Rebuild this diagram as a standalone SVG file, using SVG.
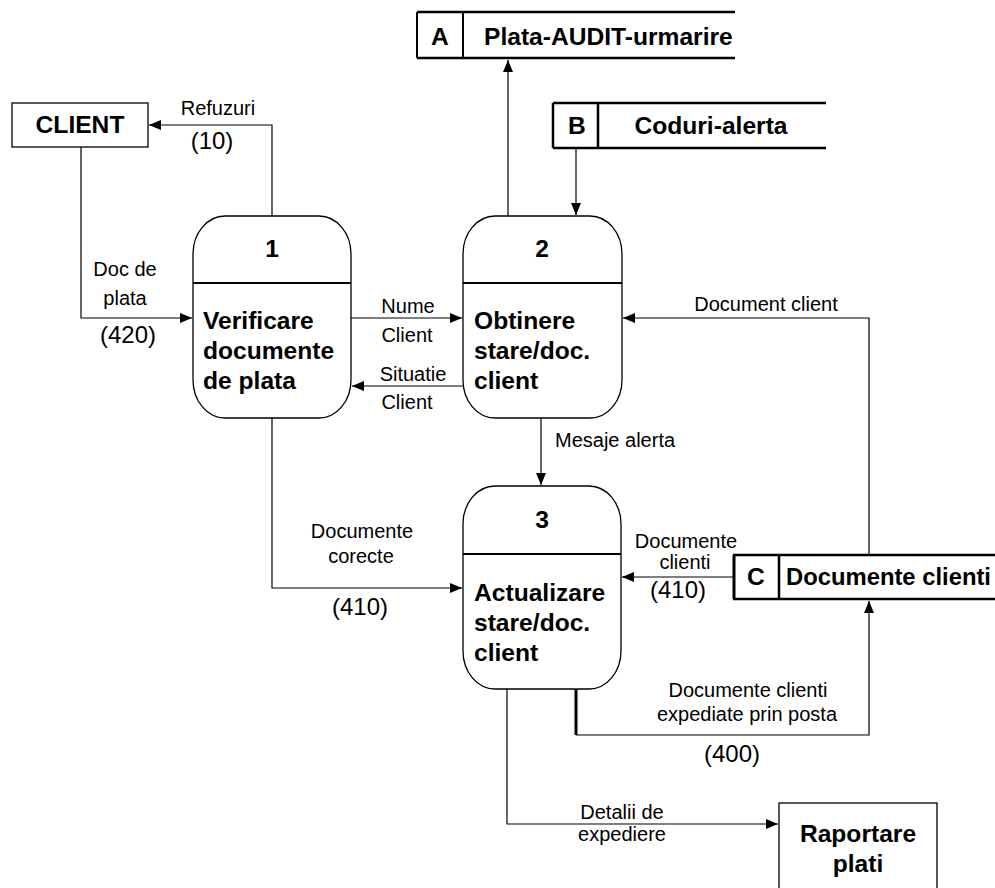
<svg xmlns="http://www.w3.org/2000/svg" width="995" height="888" viewBox="0 0 995 888">
<style>
  .bg{fill:#fff}
  .proc{fill:#fff;stroke:#000;stroke-width:1.3}
  .div{stroke:#000;stroke-width:2}
  .ext{fill:#fff;stroke:#000;stroke-width:1.3}
  .store{fill:none;stroke:#000;stroke-width:2.5}
  .conn{fill:none;stroke:#000;stroke-width:1.2}
  .b{font-family:"Liberation Sans",Arial,Helvetica,sans-serif;font-weight:bold;font-size:24.6px;fill:#000}
  .l{font-family:"Liberation Sans",Arial,Helvetica,sans-serif;font-size:20px;fill:#000}
  .n{font-family:"Liberation Sans",Arial,Helvetica,sans-serif;font-size:24px;fill:#000}
  .c{text-anchor:middle}
</style>
<defs>
  <marker id="ah" viewBox="0 0 12 10" refX="12" refY="5" markerWidth="12" markerHeight="10" markerUnits="userSpaceOnUse" orient="auto">
    <path d="M0,0 L12,5 L0,10 Z" fill="#000"/>
  </marker>
</defs>
<rect class="bg" x="0" y="0" width="995" height="888"/>

<g id="connectors">
  <path class="conn" d="M272,216 V125 H149" marker-end="url(#ah)"/>
  <path class="conn" d="M81,147 V318 H192" marker-end="url(#ah)"/>
  <path class="conn" d="M508,216 V60" marker-end="url(#ah)"/>
  <path class="conn" d="M576,148 V215" marker-end="url(#ah)"/>
  <path class="conn" d="M351,318 H462" marker-end="url(#ah)"/>
  <path class="conn" d="M463,386 H352" marker-end="url(#ah)"/>
  <path class="conn" d="M869,554 V318 H623" marker-end="url(#ah)"/>
  <path class="conn" d="M541,418 V485" marker-end="url(#ah)"/>
  <path class="conn" d="M272,418 V588 H462" marker-end="url(#ah)"/>
  <path class="conn" d="M733,577 H622" marker-end="url(#ah)"/>
  <path class="conn" d="M576,735 H869 V601" marker-end="url(#ah)"/>
  <line x1="576" y1="689" x2="576" y2="735" stroke="#000" stroke-width="3"/>
  <path class="conn" d="M507,689 V824 H778" marker-end="url(#ah)"/>
</g>

<g id="client">
  <rect class="ext" x="12" y="103" width="136" height="44"/>
  <text class="b c" x="80" y="133">CLIENT</text>
</g>

<g id="storeA">
  <line class="store" x1="417" y1="12" x2="735" y2="12"/>
  <line class="store" x1="417" y1="58" x2="735" y2="58"/>
  <line x1="417" y1="12" x2="417" y2="58" stroke="#000" stroke-width="2"/>
  <line x1="463" y1="12" x2="463" y2="58" stroke="#000" stroke-width="2"/>
  <text class="b c" x="440" y="45">A</text>
  <text class="b" x="484" y="45">Plata-AUDIT-urmarire</text>
</g>

<g id="storeB">
  <line class="store" x1="553" y1="103" x2="826" y2="103"/>
  <line class="store" x1="553" y1="148" x2="826" y2="148"/>
  <line x1="553" y1="103" x2="553" y2="148" stroke="#000" stroke-width="2.5"/>
  <line x1="598" y1="103" x2="598" y2="148" stroke="#000" stroke-width="2.5"/>
  <text class="b c" x="577" y="134">B</text>
  <text class="b c" x="711" y="134">Coduri-alerta</text>
</g>

<g id="storeC">
  <line class="store" x1="733" y1="555" x2="995" y2="555"/>
  <line class="store" x1="733" y1="599" x2="995" y2="599"/>
  <line x1="734" y1="555" x2="734" y2="599" stroke="#000" stroke-width="3"/>
  <line x1="779" y1="555" x2="779" y2="599" stroke="#000" stroke-width="2.5"/>
  <text class="b c" x="756" y="585">C</text>
  <text class="b" x="786" y="585" style="font-size:23.8px">Documente clienti</text>
</g>

<g id="p1">
  <rect class="proc" x="193" y="216" width="158" height="202" rx="32" ry="38"/>
  <line class="div" x1="193" y1="283" x2="351" y2="283"/>
  <text class="b c" x="272" y="257">1</text>
  <text class="b" x="203" y="329">Verificare</text>
  <text class="b" x="203" y="359">documente</text>
  <text class="b" x="203" y="389">de plata</text>
</g>

<g id="p2">
  <rect class="proc" x="463" y="216" width="159" height="202" rx="32" ry="38"/>
  <line class="div" x1="463" y1="283" x2="622" y2="283"/>
  <text class="b c" x="542" y="257">2</text>
  <text class="b" x="474" y="329">Obtinere</text>
  <text class="b" x="474" y="359">stare/doc.</text>
  <text class="b" x="474" y="389">client</text>
</g>

<g id="p3">
  <rect class="proc" x="463" y="486" width="158" height="203" rx="32" ry="38"/>
  <line class="div" x1="463" y1="554" x2="621" y2="554"/>
  <text class="b c" x="542" y="528">3</text>
  <text class="b" x="474" y="601">Actualizare</text>
  <text class="b" x="474" y="631">stare/doc.</text>
  <text class="b" x="474" y="661">client</text>
</g>

<g id="raportare">
  <rect class="ext" x="779" y="803" width="158" height="90"/>
  <text class="b c" x="858" y="842">Raportare</text>
  <text class="b c" x="858" y="872">plati</text>
</g>

<g id="labels">
  <text class="l c" x="218" y="115">Refuzuri</text>
  <text class="n c" x="212" y="149">(10)</text>
  <text class="l c" x="125" y="276">Doc de</text>
  <text class="l c" x="125" y="305">plata</text>
  <text class="n c" x="128" y="343">(420)</text>
  <text class="l c" x="408" y="313">Nume</text>
  <text class="l c" x="407" y="342">Client</text>
  <text class="l c" x="413" y="381">Situatie</text>
  <text class="l c" x="407" y="409">Client</text>
  <text class="l c" x="766" y="311">Document client</text>
  <text class="l" x="555" y="447">Mesaje alerta</text>
  <text class="l c" x="362" y="538">Documente</text>
  <text class="l c" x="361" y="563">corecte</text>
  <text class="n c" x="360" y="615">(410)</text>
  <text class="l c" x="686" y="548">Documente</text>
  <text class="l c" x="685" y="569">clienti</text>
  <text class="n c" x="678" y="598">(410)</text>
  <text class="l c" x="748" y="697">Documente clienti</text>
  <text class="l c" x="747" y="721">expediate prin posta</text>
  <text class="n c" x="732" y="762">(400)</text>
  <text class="l c" x="622" y="819">Detalii de</text>
  <text class="l c" x="622" y="841">expediere</text>
</g>
</svg>
